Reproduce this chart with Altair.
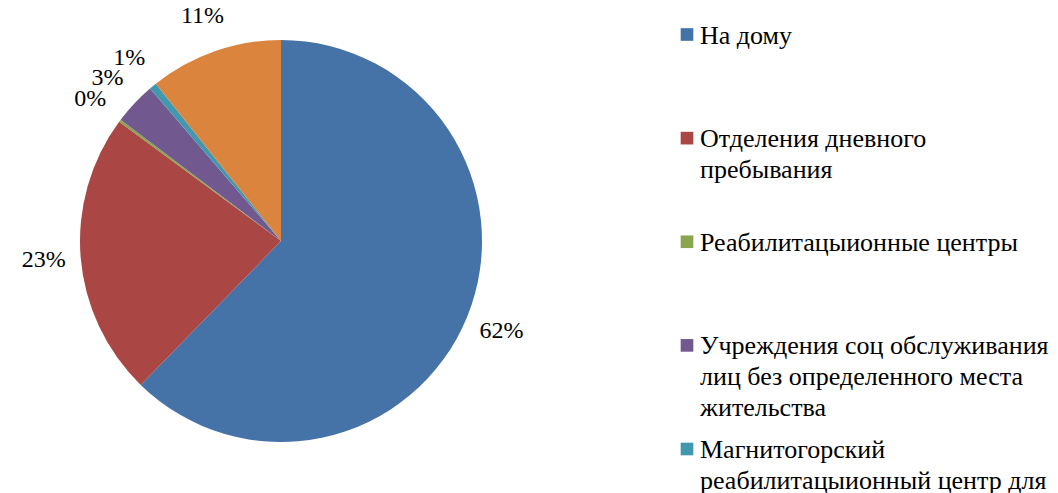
import altair as alt
import pandas as pd

# ---- data ----
categories = [
    "На дому",
    "Отделения дневного пребывания",
    "Реабилитацыионные центры",
    "Учреждения соц обслуживания лиц без определенного места жительства",
    "Магнитогорский реабилитацыионный центр для",
    "Прочие",
]
values = [62.3, 22.8, 0.2, 3.4, 0.6, 10.7]
colors = ["#4572A7", "#AA4643", "#89A54E", "#71588F", "#4198AF", "#DB843D"]

# legend entries as shown (wrapped the same way as the picture)
legend_labels = [
    "На дому",
    "Отделения дневного\nпребывания",
    "Реабилитацыионные центры",
    "Учреждения соц обслуживания\nлиц без определенного места\nжительства",
    "Магнитогорский\nреабилитацыионный центр для",
]

FONT = "Liberation Serif"

pie_df = pd.DataFrame({"cat": categories, "value": values, "idx": list(range(len(categories)))})
leg_df = pd.DataFrame({
    "cat": categories[:len(legend_labels)],
    "label": legend_labels,
    "idx": list(range(len(legend_labels))),
})

color_scale = alt.Scale(domain=categories, range=colors)

CX, CY = 273, 233  # pie centre inside the plot area

base = alt.Chart(pie_df).encode(
    theta=alt.Theta("value:Q", stack=True),
    order=alt.Order("idx:Q", sort="ascending"),
    x=alt.value(CX),
    y=alt.value(CY),
)

arcs = base.mark_arc(outerRadius=201).encode(
    color=alt.Color("cat:N", scale=color_scale, legend=None)
)

labels = base.transform_calculate(
    lbl="format(datum.value / 100, '.0%')"
).mark_text(
    radius=238, font=FONT, fontSize=24, color="#000000", align="center", baseline="middle"
).encode(text="lbl:N")

yscale = alt.Scale(domain=[0, 4], range=[26.5, 441])

squares = alt.Chart(leg_df).mark_square(size=160, opacity=1).encode(
    x=alt.value(679),
    y=alt.Y("idx:Q", scale=yscale, axis=None),
    color=alt.Color("cat:N", scale=color_scale, legend=None),
)

texts = alt.Chart(leg_df).mark_text(
    align="left", baseline="alphabetic", dy=9, lineBreak="\n", lineHeight=31,
    font=FONT, fontSize=26, color="#000000",
).encode(
    x=alt.value(692),
    y=alt.Y("idx:Q", scale=yscale, axis=None),
    text="label:N",
)

chart = alt.layer(arcs, labels, squares, texts).properties(
    width=1042, height=485, padding=0, background="#ffffff",
    autosize=alt.AutoSizeParams(type="none"),
).configure_view(stroke=None)

chart.save("out.html", embed_options={"renderer": "svg", "actions": False})
